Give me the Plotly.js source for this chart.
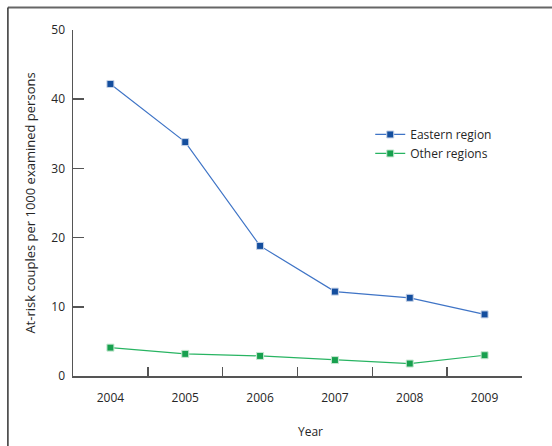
<!DOCTYPE html>
<html>
<head>
<meta charset="utf-8">
<script src="https://cdn.plot.ly/plotly-3.0.1.min.js"></script>
<style>html,body{margin:0;padding:0;background:#fff;}#chart{width:552px;height:446px;}</style>
</head>
<body>
<div id="chart"></div>
<script>
var years = ["2004", "2005", "2006", "2007", "2008", "2009"];
var easternRegion = [42.2, 33.8, 18.8, 12.2, 11.3, 8.9];
var otherRegions = [4.1, 3.2, 2.9, 2.3, 1.8, 3.0];
var yTicks = [0, 10, 20, 30, 40, 50];

var font = "Open Sans, Noto Sans, sans-serif";

var traces = [
  {
    x: years, y: easternRegion, name: "Eastern region", type: "scatter", mode: "lines+markers",
    line: {color: "#3f74c6", width: 1.2},
    marker: {symbol: "square", size: 7, color: "#144e9e", line: {color: "#c8d4e8", width: 1}}
  },
  {
    x: years, y: otherRegions, name: "Other regions", type: "scatter", mode: "lines+markers",
    line: {color: "#28b462", width: 1.2},
    marker: {symbol: "square", size: 7, color: "#17a04e", line: {color: "#c8e8d2", width: 1}}
  }
];

var layout = {
  width: 552, height: 446,
  margin: {l: 73, r: 30, t: 30, b: 70},
  paper_bgcolor: "#fff", plot_bgcolor: "#fff",
  font: {family: font, size: 12, color: "#262626"},
  showlegend: true,
  legend: {x: 0.662, y: 0.74, xanchor: "left", yanchor: "top", bgcolor: "rgba(0,0,0,0)",
           font: {family: font, size: 12, color: "#262626"}, tracegroupgap: 0, itemwidth: 30},
  xaxis: {
    type: "category", range: [-0.5, 5.5], showline: true, linecolor: "#555", linewidth: 1.5,
    ticks: "inside", tickson: "boundaries", ticklen: 9, tickcolor: "#555", tickwidth: 1.5,
    showgrid: false, zeroline: false, ticklabelstandoff: 10,
    tickfont: {family: font, size: 12, color: "#262626"}
  },
  yaxis: {
    range: [0, 50], tickvals: yTicks, showline: true, linecolor: "#555", linewidth: 1.5,
    ticks: "inside", ticklen: 11, tickcolor: "#555", tickwidth: 1.5,
    showgrid: false, zeroline: false, ticklabelstandoff: 4,
    tickfont: {family: font, size: 12, color: "#262626"},
    title: {text: "At-risk couples per 1000 examined persons", standoff: 13,
            font: {family: font, size: 13, color: "#262626"}}
  },
  annotations: [
    {text: "Year", xref: "paper", yref: "paper", x: 0.528, y: -0.16, xanchor: "center", yanchor: "middle",
     showarrow: false, font: {family: font, size: 12, color: "#262626"}}
  ],
  shapes: [
    {type: "line", xref: "paper", yref: "paper", x0: -0.145, x1: 1.08, y0: 1.065, y1: 1.065,
     line: {color: "#666", width: 2}},
    {type: "line", xref: "paper", yref: "paper", x0: -0.145, x1: -0.145, y0: 1.065, y1: -0.21,
     line: {color: "#333", width: 1.5}}
  ]
};

Plotly.newPlot("chart", traces, layout, {displayModeBar: false, staticPlot: true});
</script>
</body>
</html>
